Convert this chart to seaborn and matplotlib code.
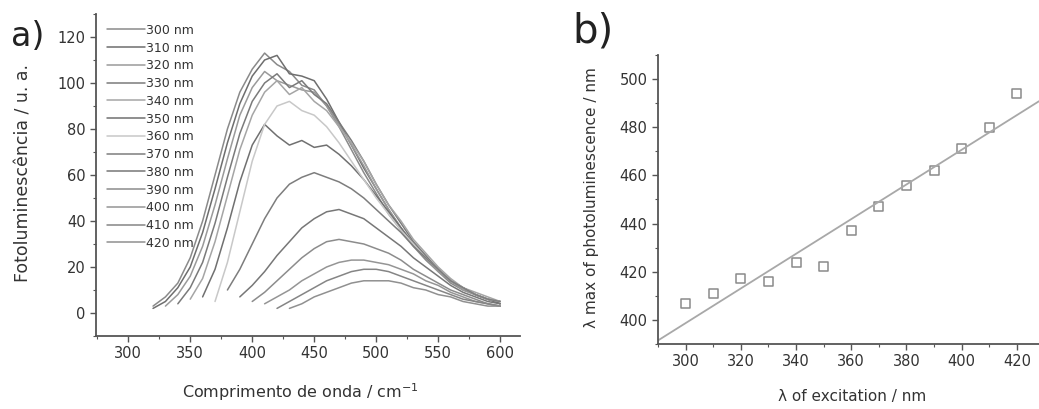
"""Photoluminescence spectra (a) and emission maximum vs excitation (b)."""
import matplotlib
matplotlib.use("Agg")
import matplotlib.pyplot as plt
import seaborn as sns
import numpy as np
import pandas as pd
from matplotlib.ticker import MultipleLocator

nan = np.nan

# emission wavelength grid (nm) for panel a
wavelength = [320, 330, 340, 350, 360, 370, 380, 390, 400, 410, 420, 430, 440, 450, 460,
              470, 480, 490, 500, 510, 520, 530, 540, 550, 560, 570, 580, 590, 600]

excitation_labels = ['300 nm', '310 nm', '320 nm', '330 nm', '340 nm', '350 nm', '360 nm',
                     '370 nm', '380 nm', '390 nm', '400 nm', '410 nm', '420 nm']

# intensity (nan before the curve starts)
pl_300 = [3, 7, 13, 24, 40, 60, 80, 96, 106, 113, 108, 105, 99, 97, 90, 81, 71, 61, 52, 43, 36, 29, 23, 18, 13, 10, 8, 6, 4]
pl_310 = [2, 5, 11, 20, 35, 54, 74, 91, 103, 110, 112, 104, 103, 101, 93, 83, 73, 63, 54, 45, 37, 30, 24, 19, 14, 11, 8, 6, 4]
pl_320 = [nan, 3, 8, 16, 29, 47, 67, 86, 98, 105, 101, 99, 97, 96, 90, 82, 73, 64, 54, 45, 37, 30, 24, 18, 14, 10, 8, 6, 5]
pl_330 = [nan, nan, 4, 11, 22, 39, 59, 78, 92, 100, 104, 98, 101, 95, 91, 83, 75, 66, 56, 47, 39, 31, 25, 19, 14, 11, 8, 6, 5]
pl_340 = [nan, nan, nan, 6, 15, 31, 51, 71, 86, 96, 101, 95, 98, 92, 88, 81, 74, 66, 56, 47, 40, 32, 26, 20, 15, 11, 9, 7, 5]
pl_350 = [nan, nan, nan, nan, 7, 19, 37, 57, 73, 82, 77, 73, 75, 72, 73, 69, 64, 58, 51, 44, 37, 30, 24, 19, 14, 11, 8, 6, 5]
pl_360 = [nan, nan, nan, nan, nan, 5, 22, 44, 66, 82, 90, 92, 88, 86, 81, 74, 66, 58, 50, 43, 36, 30, 24, 19, 14, 11, 8, 6, 5]
pl_370 = [nan, nan, nan, nan, nan, nan, 10, 19, 30, 41, 50, 56, 59, 61, 59, 57, 54, 50, 45, 40, 35, 29, 24, 19, 14, 11, 8, 6, 5]
pl_380 = [nan, nan, nan, nan, nan, nan, nan, 7, 12, 18, 25, 31, 37, 41, 44, 45, 43, 41, 37, 33, 29, 24, 20, 16, 12, 9, 7, 5, 4]
pl_390 = [nan, nan, nan, nan, nan, nan, nan, nan, 5, 9, 14, 19, 24, 28, 31, 32, 31, 30, 28, 26, 23, 19, 16, 13, 10, 8, 6, 4, 3]
pl_400 = [nan, nan, nan, nan, nan, nan, nan, nan, nan, 4, 7, 10, 14, 17, 20, 22, 23, 23, 22, 21, 19, 17, 14, 12, 9, 7, 5, 4, 3]
pl_410 = [nan, nan, nan, nan, nan, nan, nan, nan, nan, nan, 2, 5, 8, 11, 14, 16, 18, 19, 19, 18, 16, 14, 12, 10, 8, 6, 5, 4, 3]
pl_420 = [nan, nan, nan, nan, nan, nan, nan, nan, nan, nan, nan, 2, 4, 7, 9, 11, 13, 14, 14, 14, 13, 11, 10, 8, 7, 5, 4, 3, 3]

spectra = [pl_300, pl_310, pl_320, pl_330, pl_340, pl_350, pl_360,
           pl_370, pl_380, pl_390, pl_400, pl_410, pl_420]

# panel b: emission maximum vs excitation wavelength
excitation = [300, 310, 320, 330, 340, 350, 360, 370, 380, 390, 400, 410, 420]
pl_max = [407, 411, 417, 416, 424, 422, 437, 447, 456, 462, 471, 480, 494]

grays = ['#8a8a8a', '#6e6e6e', '#9a9a9a', '#7a7a7a', '#a5a5a5', '#707070', '#c8c8c8',
         '#7d7d7d', '#777777', '#8c8c8c', '#959595', '#858585', '#909090']

rows = []
for label, values in zip(excitation_labels, spectra):
    for wl, v in zip(wavelength, values):
        if not np.isnan(v):
            rows.append({'wavelength': wl, 'intensity': v, 'excitation': label})
df_spec = pd.DataFrame(rows)
df_max = pd.DataFrame({'excitation': excitation, 'pl_max': pl_max})

sns.set_style('ticks')
plt.rcParams['font.family'] = ['DejaVu Sans']
plt.rcParams['xtick.direction'] = 'out'
plt.rcParams['ytick.direction'] = 'out'

fig = plt.figure(figsize=(10.39, 4.09), dpi=100)
ax_a = fig.add_axes([0.0924, 0.1785, 0.4081, 0.7873])
ax_b = fig.add_axes([0.6333, 0.159, 0.3667, 0.7066])

tick_color = '#333333'

# Panel a
sns.lineplot(data=df_spec, x='wavelength', y='intensity', hue='excitation',
             hue_order=excitation_labels, palette=grays, linewidth=1.1,
             ax=ax_a, legend=True)
ax_a.set_xlim(274, 616)
ax_a.set_ylim(-10, 130)
ax_a.xaxis.set_major_locator(MultipleLocator(50))
ax_a.xaxis.set_minor_locator(MultipleLocator(25))
ax_a.yaxis.set_major_locator(MultipleLocator(20))
ax_a.yaxis.set_minor_locator(MultipleLocator(10))
ax_a.set_xlabel('Comprimento de onda / cm$^{-1}$', fontsize=11.5, color=tick_color)
ax_a.set_ylabel('Fotoluminescência / u. a.', fontsize=12.5, color=tick_color)
ax_a.xaxis.set_label_coords(0.481, -0.14)
ax_a.yaxis.set_label_coords(-0.15, 0.505)
leg = ax_a.legend(loc='upper left', bbox_to_anchor=(0.015, 0.985), frameon=False,
                  fontsize=9, handlelength=3.0, handletextpad=0.12, labelspacing=0.38,
                  borderaxespad=0)
for t in leg.get_texts():
    t.set_color(tick_color)
fig.text(0.011, 0.888, 'a)', fontsize=24, color='#222222', va='baseline')

# Panel b
ax_b.set_xlim(290, 428)
ax_b.set_ylim(390, 510)
sns.regplot(data=df_max, x='excitation', y='pl_max', ci=None, truncate=False,
            scatter=False, line_kws={'color': '#a8a8a8', 'linewidth': 1.3}, ax=ax_b)
sns.scatterplot(data=df_max, x='excitation', y='pl_max', marker='s', s=42,
                facecolor='none', edgecolor='#8a8a8a', linewidth=1.1, ax=ax_b)
ax_b.set_xlim(290, 428)
ax_b.set_ylim(390, 510)
ax_b.xaxis.set_major_locator(MultipleLocator(20))
ax_b.xaxis.set_minor_locator(MultipleLocator(10))
ax_b.yaxis.set_major_locator(MultipleLocator(20))
ax_b.yaxis.set_minor_locator(MultipleLocator(10))
ax_b.set_xlabel('λ of excitation / nm', fontsize=11, color=tick_color)
ax_b.set_ylabel('λ max of photoluminescence / nm', fontsize=11, color=tick_color)
ax_b.xaxis.set_label_coords(0.51, -0.155)
ax_b.yaxis.set_label_coords(-0.155, 0.507)
fig.text(0.551, 0.897, 'b)', fontsize=29, color='#222222', va='baseline')

for ax in (ax_a, ax_b):
    sns.despine(ax=ax)
    ax.spines['left'].set_color('#555555')
    ax.spines['bottom'].set_color('#555555')
    ax.spines['left'].set_linewidth(1.3)
    ax.spines['bottom'].set_linewidth(1.3)
    ax.tick_params(which='major', length=4, width=1, colors='#555555', labelcolor=tick_color,
                   labelsize=10.5)
    ax.tick_params(which='minor', length=2.5, width=0.8, colors='#555555')

fig.savefig('out.png', dpi=100)
